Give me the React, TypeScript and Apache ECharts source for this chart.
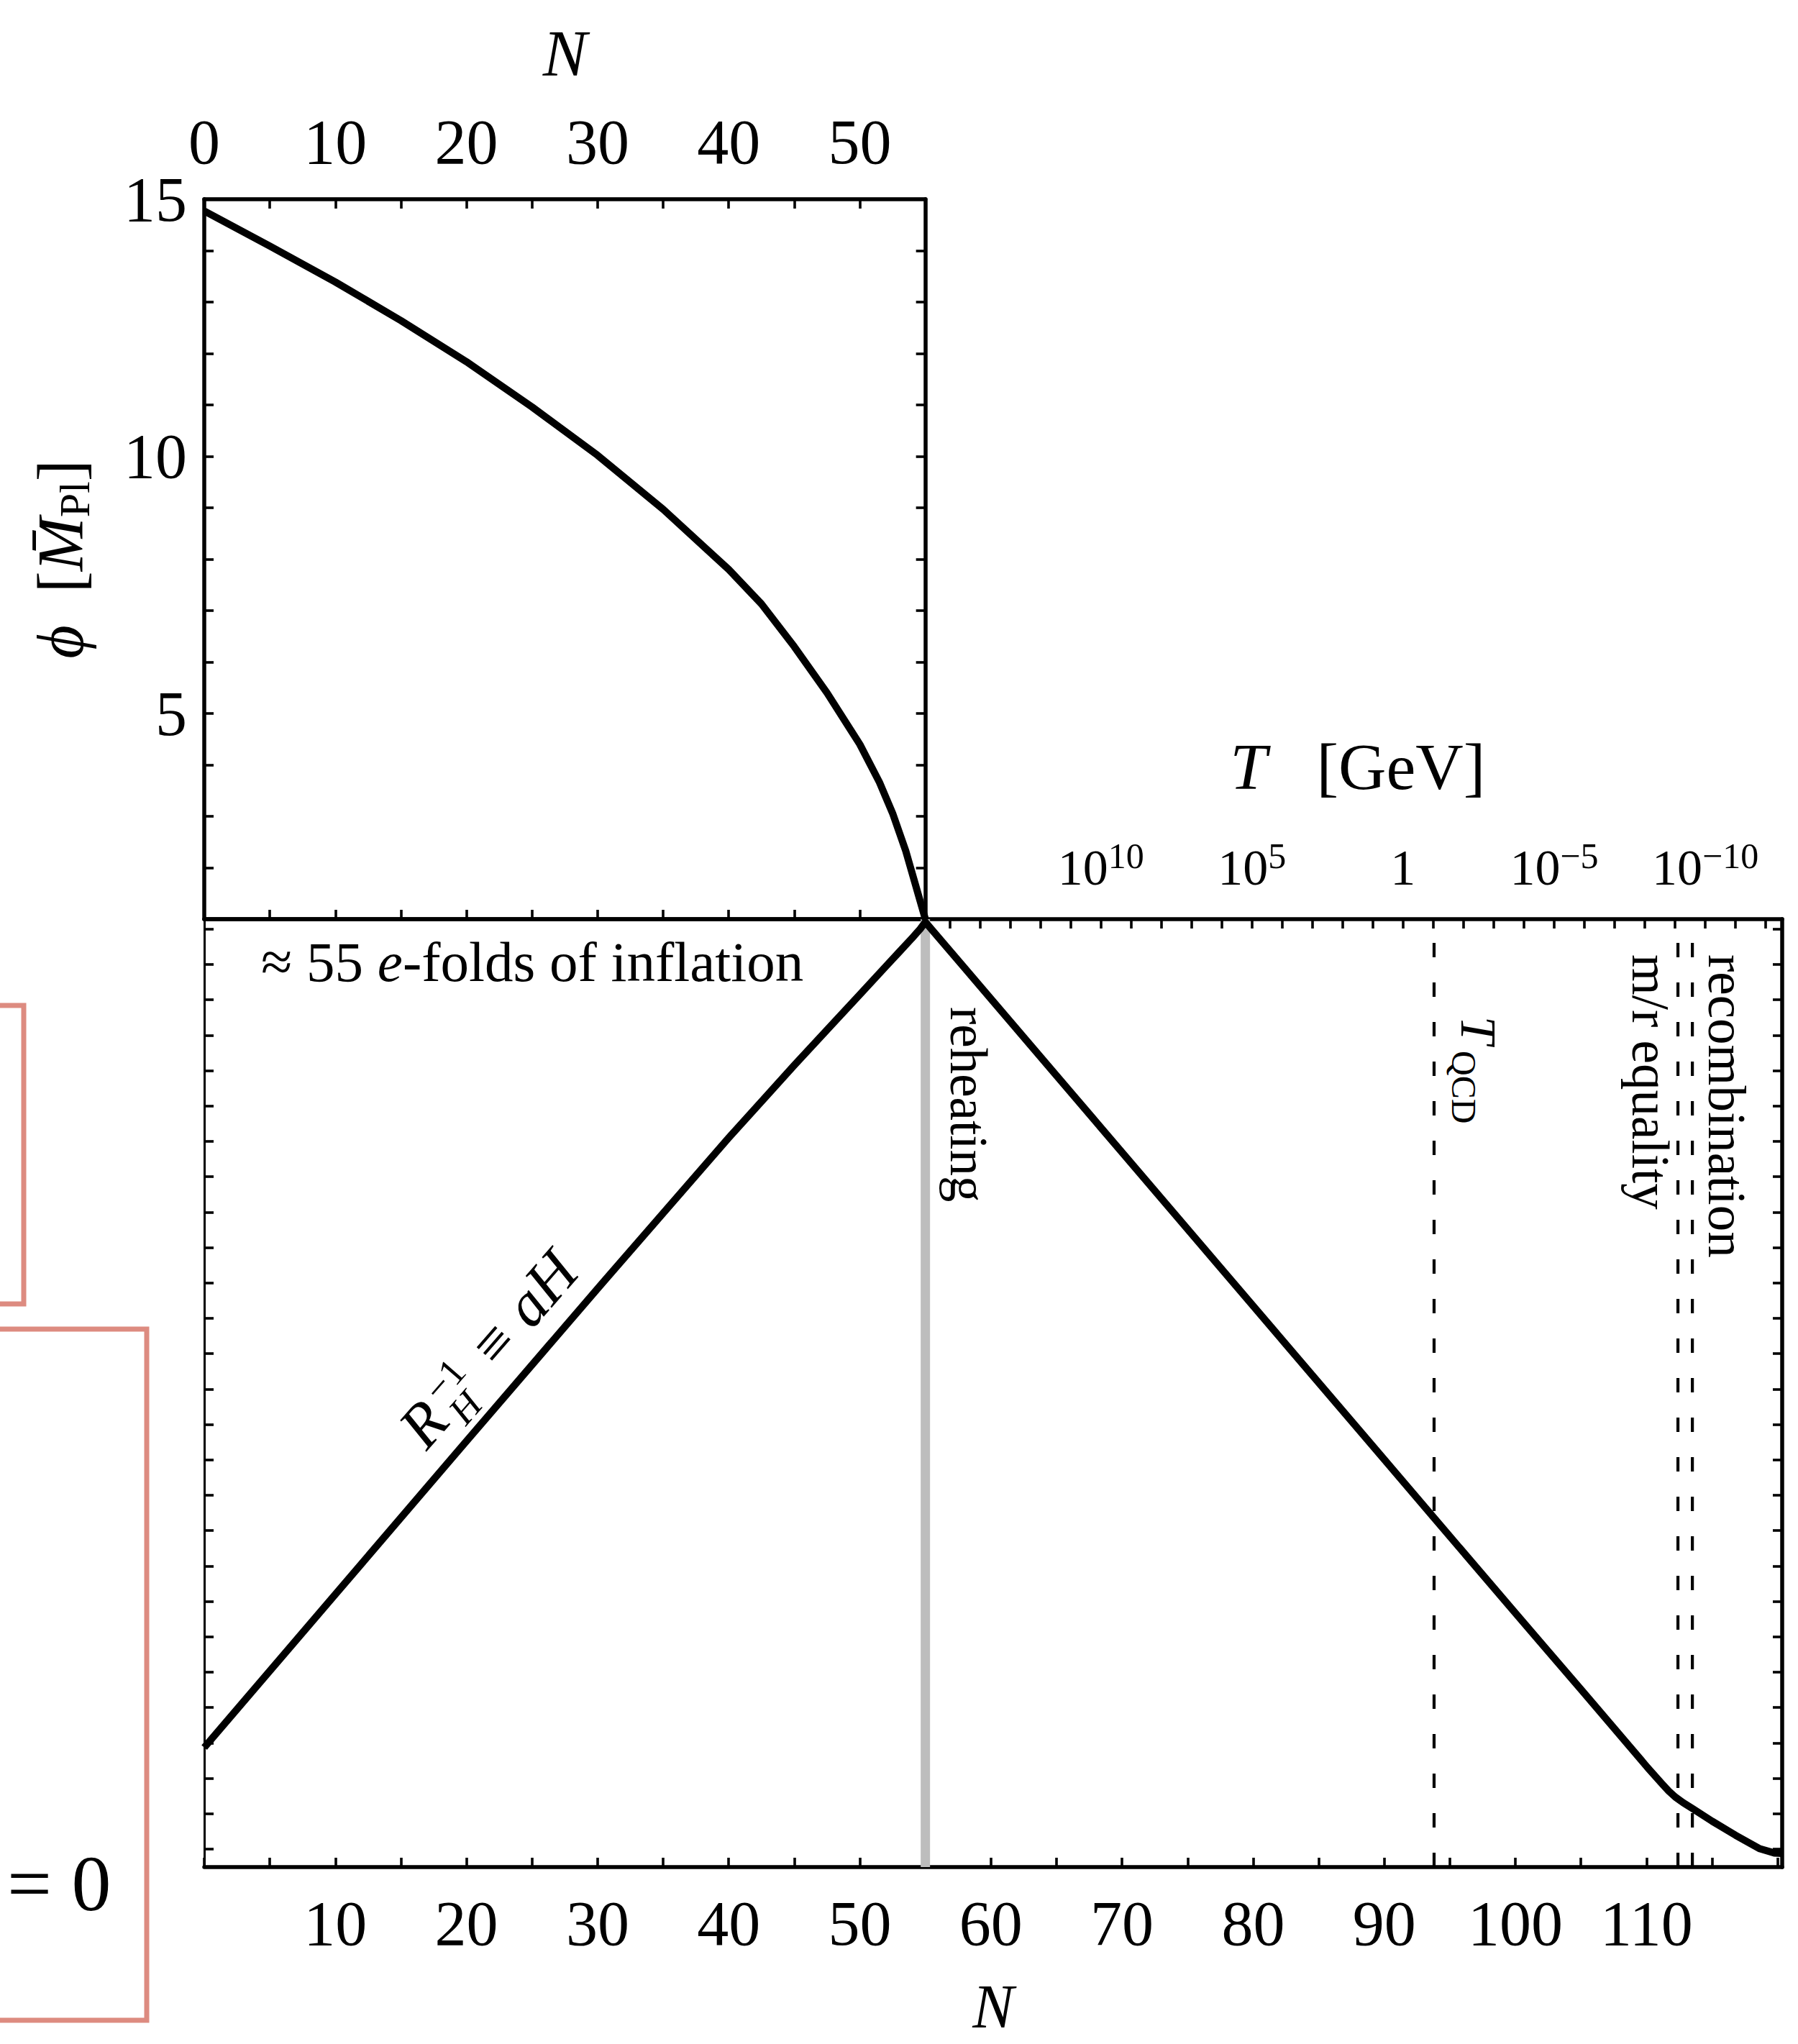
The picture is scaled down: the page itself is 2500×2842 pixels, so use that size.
import React, { useEffect, useRef } from "react";
import * as echarts from "echarts";

const FONT = '"Liberation Serif", "DejaVu Serif", "Times New Roman", serif';
const INK = "#000000";

// ---------------- data ----------------
// Upper panel: inflaton field phi [reduced Planck mass] versus e-folds N
const phiN = [0, 5, 10, 15, 20, 25, 30, 35, 40, 42.5, 45, 47.5, 50, 51.5, 52.5, 53.5, 54.3, 55];
const phiValues = [14.77, 14.09, 13.39, 12.64, 11.84, 10.96, 10.02, 8.97, 7.8, 7.13, 6.3, 5.4, 4.4, 3.66, 3.06, 2.33, 1.62, 1.0];

// Lower panel: inverse comoving Hubble radius, log10(aH) in decades (arbitrary zero)
const hubbleN = [0, 10, 20, 30, 40, 45, 48, 50, 52, 53, 54, 54.6, 55, 55.5, 58, 60, 65, 70, 80, 90, 93.8, 100, 105.1, 110, 111.2, 111.7, 112.2, 112.8, 113.5, 115, 116.8, 118.65, 119.75, 120.35];
const hubbleLogAH = [2.87, 7.2, 11.53, 15.84, 20.1, 22.15, 23.35, 24.15, 24.95, 25.35, 25.75, 26.0, 26.2, 25.98, 24.9, 24.03, 21.86, 19.69, 15.35, 11.01, 9.36, 6.67, 4.47, 2.34, 1.84, 1.64, 1.47, 1.31, 1.15, 0.79, 0.39, 0.01, -0.11, -0.12];

// Events (e-folds N)
const reheatingN = 55;
const qcdN = 93.8;
const equalityN = 112.4;
const recombinationN = 113.5;

// Tick labels
const topNLabels = [0, 10, 20, 30, 40, 50];
const phiLabels = [5, 10, 15];
const bottomNLabels = [10, 20, 30, 40, 50, 60, 70, 80, 90, 100, 110];
const tempExponents = [10, 5, 0, -5, -10]; // log10(T / GeV)

// Axis ranges
const topNMax = 55;
const phiMin = 1;
const phiMax = 15;
const bottomNMax = 120.35;
const logAHMin = -0.508;
const logAHMax = 26.28;
const logAHTickMin = 0;
const logAHTickMax = 26;
const logTMin = -12;
const logTMax = 15;
const nAtLogTMax = 56.86; // e-fold where T = 10^15 GeV
const nPerDecadeT = 2.305; // e-folds per decade of T

// ---------------- layout (pixels) ----------------
const CHART_W = 2500;
const CHART_H = 2842;
const LEFT = 284;
const TOP_Y = 277;
const MID_Y = 1278;
const BOT_Y = 2596;
const RIGHT_X = 2478;
const pxPerN = (RIGHT_X - LEFT) / bottomNMax;
const botH = BOT_Y - MID_Y;
const pxPerDecAH = botH / (logAHMax - logAHMin);

const FRAME_W = 5.5;
const CURVE_W = 10;

const axisLine = (w: number) => ({ show: true, onZero: false, lineStyle: { color: INK, width: w } });
const ticks = () => ({ show: true, inside: true, length: 13, lineStyle: { color: INK, width: 3.6 } });
const noTicks = { show: false };
const noLabels = { show: false };
const noSplit = { show: false };

function tempLabel(v: number): string {
  const e = Math.round(v);
  if (Math.abs(v - e) > 1e-6 || !tempExponents.includes(e)) return "";
  if (e === 0) return "{b|1}";
  const exp = e < 0 ? "\u2212" + String(-e) : String(e);
  return "{b|10}{s|" + exp + "}";
}

function buildOption(): any {
  const textBase = { fill: INK, fontFamily: FONT };
  const rotText = (x: number, y: number, text: string, size: number) => ({
    type: "text",
    x,
    y,
    rotation: -Math.PI / 2,
    silent: true,
    style: { ...textBase, text, fontSize: size, align: "left", verticalAlign: "middle", textAlign: "left", textVerticalAlign: "middle" },
  });
  const t = (x: number, y: number, text: string, size: number, italic = false) => ({
    type: "text",
    x,
    y,
    silent: true,
    style: {
      ...textBase,
      text,
      fontSize: size,
      fontStyle: italic ? "italic" : "normal",
      align: "left",
      verticalAlign: "middle",
      textAlign: "left",
      textVerticalAlign: "middle",
    },
  });

  return {
    animation: false,
    backgroundColor: "#ffffff",
    textStyle: { fontFamily: FONT },
    grid: [
      { left: LEFT, top: TOP_Y, width: topNMax * pxPerN, height: MID_Y - TOP_Y },
      { left: LEFT, top: MID_Y, width: RIGHT_X - LEFT, height: botH },
      {
        left: LEFT,
        top: MID_Y + (logAHMax - logAHTickMax) * pxPerDecAH,
        width: RIGHT_X - LEFT,
        height: (logAHTickMax - logAHTickMin) * pxPerDecAH,
      },
      {
        left: LEFT + nAtLogTMax * pxPerN,
        top: MID_Y,
        width: (logTMax - logTMin) * nPerDecadeT * pxPerN,
        height: botH,
      },
    ],
    xAxis: [
      {
        gridIndex: 0,
        type: "value",
        position: "top",
        min: 0,
        max: topNMax,
        interval: 5,
        axisLine: axisLine(FRAME_W),
        axisTick: ticks(),
        splitLine: noSplit,
        axisLabel: {
          show: true,
          margin: 36,
          color: INK,
          fontFamily: FONT,
          fontSize: 88,
          formatter: (v: number) => (topNLabels.includes(v) ? String(v) : ""),
        },
        name: "N",
        nameLocation: "middle",
        nameGap: 157,
        nameTextStyle: { color: INK, fontFamily: FONT, fontSize: 92, fontStyle: "italic" },
      },
      {
        gridIndex: 0,
        type: "value",
        position: "bottom",
        min: 0,
        max: topNMax,
        interval: 5,
        axisLine: axisLine(FRAME_W),
        axisTick: ticks(),
        axisLabel: noLabels,
        splitLine: noSplit,
      },
      {
        gridIndex: 1,
        type: "value",
        position: "bottom",
        min: 0,
        max: bottomNMax,
        interval: 5,
        axisLine: axisLine(FRAME_W),
        axisTick: ticks(),
        splitLine: noSplit,
        axisLabel: {
          show: true,
          margin: 34,
          color: INK,
          fontFamily: FONT,
          fontSize: 88,
          formatter: (v: number) => (bottomNLabels.includes(v) ? String(v) : ""),
        },
        name: "N",
        nameLocation: "middle",
        nameGap: 162,
        nameTextStyle: { color: INK, fontFamily: FONT, fontSize: 86, lineHeight: 64, fontStyle: "italic" },
      },
      {
        gridIndex: 1,
        type: "value",
        position: "top",
        min: 0,
        max: bottomNMax,
        axisLine: axisLine(FRAME_W),
        axisTick: noTicks,
        axisLabel: noLabels,
        splitLine: noSplit,
      },
      {
        gridIndex: 3,
        type: "value",
        position: "top",
        min: logTMin,
        max: logTMax,
        interval: 1,
        inverse: true,
        axisLine: { show: false, onZero: false },
        axisTick: ticks(),
        splitLine: noSplit,
        axisLabel: {
          show: true,
          margin: 31,
          color: INK,
          fontFamily: FONT,
          formatter: tempLabel,
          rich: {
            b: { fontFamily: FONT, fontSize: 70, lineHeight: 82, color: INK, verticalAlign: "middle" },
            s: { fontFamily: FONT, fontSize: 50, lineHeight: 30, color: INK, verticalAlign: "top" },
          },
        },
        name: "{i|T}   [GeV]",
        nameLocation: "middle",
        nameGap: 166,
        nameTextStyle: {
          color: INK,
          fontFamily: FONT,
          fontSize: 92,
          rich: { i: { fontFamily: FONT, fontSize: 92, fontStyle: "italic", color: INK } },
        },
      },
      { gridIndex: 2, type: "value", show: false, min: 0, max: 1, axisLine: { onZero: false } },
    ],
    yAxis: [
      {
        gridIndex: 0,
        type: "value",
        position: "left",
        min: phiMin,
        max: phiMax,
        interval: 1,
        axisLine: axisLine(FRAME_W),
        axisTick: ticks(),
        splitLine: noSplit,
        axisLabel: {
          show: true,
          margin: 24,
          color: INK,
          fontFamily: FONT,
          fontSize: 88,
          formatter: (v: number) => (phiLabels.includes(v) ? String(v) : ""),
        },
        name: "{i|\u03D5}  [{i|M\u0304}{s|Pl}]",
        nameLocation: "middle",
        nameGap: 150,
        nameTextStyle: {
          color: INK,
          fontFamily: FONT,
          fontSize: 90,
          lineHeight: 100,
          rich: {
            i: { fontFamily: FONT, fontSize: 90, lineHeight: 100, fontStyle: "italic", color: INK },
            s: { fontFamily: FONT, fontSize: 60, lineHeight: 50, verticalAlign: "bottom", color: INK },
          },
        },
      },
      {
        gridIndex: 0,
        type: "value",
        position: "right",
        min: phiMin,
        max: phiMax,
        interval: 1,
        axisLine: axisLine(FRAME_W),
        axisTick: ticks(),
        axisLabel: noLabels,
        splitLine: noSplit,
      },
      {
        gridIndex: 1,
        type: "value",
        position: "left",
        min: logAHMin,
        max: logAHMax,
        axisLine: axisLine(3),
        axisTick: noTicks,
        axisLabel: noLabels,
        splitLine: noSplit,
      },
      {
        gridIndex: 1,
        type: "value",
        position: "right",
        min: logAHMin,
        max: logAHMax,
        axisLine: axisLine(FRAME_W),
        axisTick: noTicks,
        axisLabel: noLabels,
        splitLine: noSplit,
      },
      {
        gridIndex: 2,
        type: "value",
        position: "left",
        min: logAHTickMin,
        max: logAHTickMax,
        interval: 1,
        axisLine: { show: false, onZero: false },
        axisTick: ticks(),
        axisLabel: noLabels,
        splitLine: noSplit,
      },
      {
        gridIndex: 2,
        type: "value",
        position: "right",
        min: logAHTickMin,
        max: logAHTickMax,
        interval: 1,
        axisLine: { show: false, onZero: false },
        axisTick: ticks(),
        axisLabel: noLabels,
        splitLine: noSplit,
      },
      { gridIndex: 3, type: "value", show: false, min: 0, max: 1, axisLine: { onZero: false } },
    ],
    series: [
      {
        type: "line",
        name: "reheating",
        xAxisIndex: 2,
        yAxisIndex: 2,
        data: [
          [reheatingN, logAHMin],
          [reheatingN, logAHMax],
        ],
        symbol: "none",
        lineStyle: { color: "#bdbdbd", width: 13 },
        z: 2,
        silent: true,
      },
      ...[qcdN, equalityN, recombinationN].map((n) => ({
        type: "line",
        xAxisIndex: 2,
        yAxisIndex: 2,
        data: [
          [n, logAHMin],
          [n, logAHMax],
        ],
        symbol: "none",
        lineStyle: { color: INK, width: 4.2, type: [20, 35] },
        z: 3,
        silent: true,
      })),
      {
        type: "line",
        name: "phi",
        xAxisIndex: 0,
        yAxisIndex: 0,
        data: phiN.map((n, i) => [n, phiValues[i]]),
        symbol: "none",
        smooth: false,
        lineStyle: { color: INK, width: CURVE_W, join: "round" },
        z: 5,
        silent: true,
      },
      {
        type: "line",
        name: "aH",
        xAxisIndex: 2,
        yAxisIndex: 2,
        data: hubbleN.map((n, i) => [n, hubbleLogAH[i]]),
        symbol: "none",
        smooth: false,
        lineStyle: { color: INK, width: CURVE_W, join: "round" },
        z: 5,
        silent: true,
      },
    ],
    graphic: [
      {
        type: "rect",
        silent: true,
        shape: { x: -60, y: 1398, width: 93, height: 415 },
        style: { fill: "none", stroke: "#dd8b80", lineWidth: 7 },
      },
      {
        type: "rect",
        silent: true,
        shape: { x: -60, y: 1848, width: 264, height: 961 },
        style: { fill: "none", stroke: "#dd8b80", lineWidth: 7 },
      },
      t(10, 2619, "= 0", 110),
      {
        type: "text",
        x: 363,
        y: 1337,
        silent: true,
        style: {
          ...textBase,
          text: "\u2248 55 {i|e}-folds of inflation",
          fontSize: 79,
          align: "left",
          verticalAlign: "middle",
          textAlign: "left",
          textVerticalAlign: "middle",
          rich: { i: { fontFamily: FONT, fontSize: 79, fontStyle: "italic", fill: INK, color: INK } },
        },
      },
      rotText(1346, 1400, "reheating", 73),
      rotText(2400, 1327, "recombination", 73),
      rotText(2294, 1327, "m/r equality", 73),
      {
        type: "group",
        x: 2033,
        y: 1413,
        rotation: -Math.PI / 2,
        children: [t(0, -22.4, "T", 70, true), t(48, -2.4, "QCD", 48)],
      },
      {
        type: "group",
        x: 594,
        y: 2014,
        rotation: (49 * Math.PI) / 180,
        children: [
          t(-4, -26.9, "R", 86, true),
          t(58, 2.7, "H", 54, true),
          t(59, -44.3, "\u22121", 54),
          t(147, -26.9, "\u2261", 84),
          t(219, -26.9, "aH", 86, true),
        ],
      },
    ],
  };
}

export default function App() {
  const ref = useRef<HTMLDivElement>(null);
  useEffect(() => {
    if (!ref.current) return;
    const chart = echarts.init(ref.current, null, { renderer: "svg" });
    chart.setOption(buildOption());
    return () => chart.dispose();
  }, []);
  return (
    <div
      ref={ref}
      style={{ position: "fixed", left: 0, top: 0, width: CHART_W, height: CHART_H, background: "#ffffff" }}
    />
  );
}
